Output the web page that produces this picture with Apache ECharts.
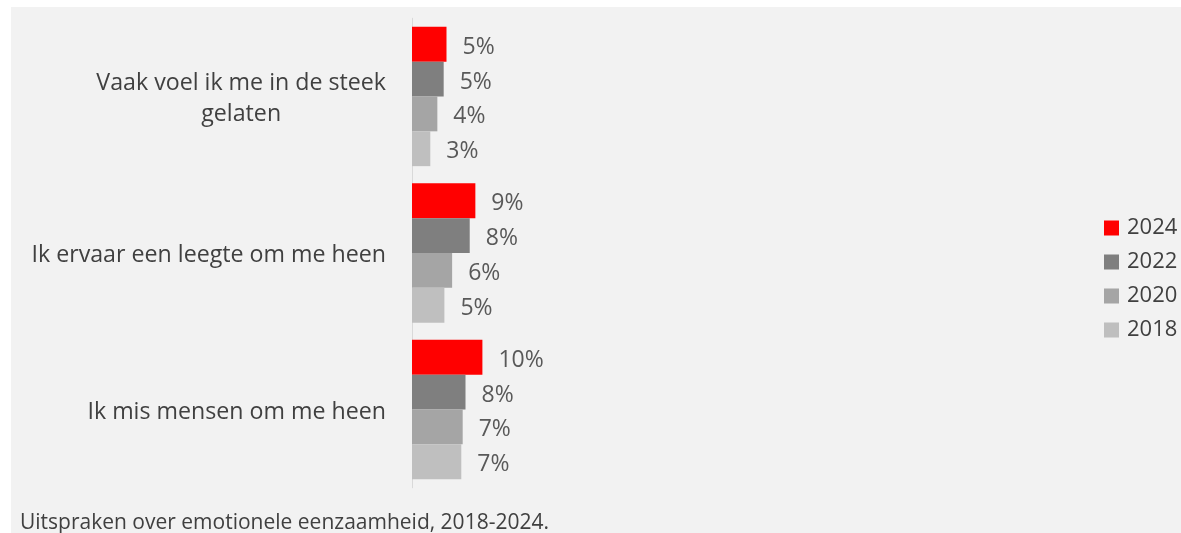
<!DOCTYPE html>
<html>
<head>
<meta charset="utf-8">
<script src="https://cdn.jsdelivr.net/npm/echarts@6/dist/echarts.min.js"></script>
<style>
  html, body { margin: 0; padding: 0; background: #ffffff; }
  #chart { position: absolute; left: 11px; top: 7px; width: 1170px; height: 526px; background: #f2f2f2; }
</style>
</head>
<body>
<div id="chart"></div>
<script>
const categories = [
  'Vaak voel ik me in de steek gelaten',
  'Ik ervaar een leegte om me heen',
  'Ik mis mensen om me heen'
];
const years = ['2024', '2022', '2020', '2018'];
const values2024 = [4.9, 9.0, 10.0];
const values2022 = [4.5, 8.2, 7.6];
const values2020 = [3.6, 5.7, 7.2];
const values2018 = [2.6, 4.6, 7.0];
const caption = 'Uitspraken over emotionele eenzaamheid, 2018-2024.';

const FONT = '"Open Sans"';
const CAT_SIZE = 23.2;
const colors = ['#ff0000', '#7f7f7f', '#a5a5a5', '#bfbfbf'];
const seriesValues = [values2024, values2022, values2020, values2018];

// measure first line so the wrapped second line can be centred under it
const cv = document.createElement('canvas').getContext('2d');
cv.font = CAT_SIZE + 'px ' + FONT;
const line1 = 'Vaak voel ik me in de steek';
const line1W = cv.measureText(line1).width;

const chart = echarts.init(document.getElementById('chart'));
chart.setOption({
  backgroundColor: '#f2f2f2',
  animation: false,
  title: {
    text: caption,
    left: 9, top: 506, padding: 0,
    textStyle: { fontFamily: FONT, fontSize: 21, fontWeight: 'normal', color: '#404040' }
  },
  legend: {
    orient: 'vertical',
    left: 1093, top: 210, padding: 0,
    itemWidth: 15, itemHeight: 15, itemGap: 12,
    icon: 'rect',
    data: years,
    textStyle: { fontFamily: FONT, fontSize: 22, color: '#404040', padding: [0, 0, 0, 3] }
  },
  grid: { left: 401, top: 11.25, height: 469.5, width: 140.8, containLabel: false },
  xAxis: {
    type: 'value', min: 0, max: 20,
    show: false
  },
  yAxis: {
    type: 'category',
    inverse: true,
    data: categories,
    axisLine: { show: true, lineStyle: { color: '#d9d9d9', width: 1 } },
    axisTick: { show: false },
    axisLabel: {
      margin: 26,
      padding: [5, 0, 0, 0],
      fontFamily: FONT, fontSize: CAT_SIZE, color: '#404040', lineHeight: 31,
      formatter: function (v) {
        if (v.indexOf(line1) === 0) {
          return line1 + '\n{g|' + v.slice(line1.length + 1) + '}';
        }
        return v;
      },
      rich: {
        g: { width: line1W, align: 'center', fontFamily: FONT, fontSize: CAT_SIZE, color: '#404040', lineHeight: 31 }
      }
    }
  },
  series: years.map((y, i) => ({
    name: y,
    type: 'bar',
    data: seriesValues[i],
    barGap: '0%',
    barCategoryGap: '11%',
    itemStyle: { color: colors[i] },
    label: {
      show: true, position: 'right', distance: 16, offset: [0, 3],
      fontFamily: FONT, fontSize: 23, color: '#595959',
      formatter: p => Math.round(p.value) + '%'
    }
  }))
});
</script>
</body>
</html>
